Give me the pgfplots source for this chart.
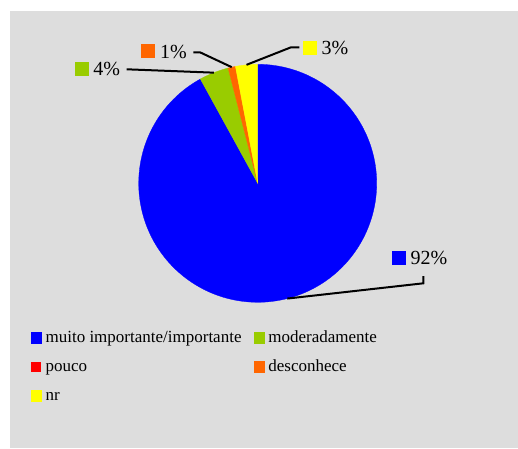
\documentclass[border=0pt]{standalone}
\usepackage{fontspec}
\setmainfont{Liberation Serif}
\usepackage{pgfplots}
\usepackage{pgfplotstable}
\pgfplotsset{compat=1.18}

\definecolor{panel}{HTML}{DDDDDD}
\definecolor{cMuito}{HTML}{0000FF}
\definecolor{cModer}{HTML}{99CC00}
\definecolor{cPouco}{HTML}{FF0000}
\definecolor{cDesc}{HTML}{FF6600}
\definecolor{cNr}{HTML}{FFFF00}

% shares in percent, in the order the slices are drawn
\pgfplotstableread{
share
92
4
0
1
3
}\pietable

\pgfplotstablegetelem{0}{share}\of\pietable\let\sA\pgfplotsretval
\pgfplotstablegetelem{1}{share}\of\pietable\let\sB\pgfplotsretval
\pgfplotstablegetelem{2}{share}\of\pietable\let\sC\pgfplotsretval
\pgfplotstablegetelem{3}{share}\of\pietable\let\sD\pgfplotsretval
\pgfplotstablegetelem{4}{share}\of\pietable\let\sE\pgfplotsretval

% pie centre and radius (pt), angles clockwise from 12 o'clock
\def\cx{257.7}
\def\cy{264.7}
\def\rr{119}
\pgfmathsetmacro\aA{3.6*\sA}
\pgfmathsetmacro\aB{\aA+3.6*\sB}
\pgfmathsetmacro\aC{\aB+3.6*\sC}
\pgfmathsetmacro\aD{\aC+3.6*\sD}
\pgfmathsetmacro\aE{\aD+3.6*\sE}
% leader line start points at the middle of each labelled slice
\pgfmathsetmacro\mA{\aA/2}
\pgfmathsetmacro\mB{(\aA+\aB)/2}
\pgfmathsetmacro\mD{(\aC+\aD)/2}
\pgfmathsetmacro\mE{(\aD+\aE)/2}
\pgfmathsetmacro\lAx{\cx+\rr*sin(\mA)}\pgfmathsetmacro\lAy{\cy+\rr*cos(\mA)}
\pgfmathsetmacro\lBx{\cx+\rr*sin(\mB)}\pgfmathsetmacro\lBy{\cy+\rr*cos(\mB)}
\pgfmathsetmacro\lDx{\cx+\rr*sin(\mD)}\pgfmathsetmacro\lDy{\cy+\rr*cos(\mD)}
\pgfmathsetmacro\lEx{\cx+\rr*sin(\mE)}\pgfmathsetmacro\lEy{\cy+\rr*cos(\mE)}

\newcommand\labfont{\fontsize{20}{24}\selectfont}

\begin{document}
\begin{tikzpicture}[x=1pt,y=1pt]
\fill[white] (0,0) rectangle (518,448);
\fill[panel] (10,0) rectangle (518,437);
\begin{axis}[
  at={(0,0)}, anchor=south west,
  scale only axis, width=518pt, height=448pt,
  xmin=0, xmax=518, ymin=0, ymax=448,
  hide axis, clip=false,
  legend columns=2,
  legend image code/.code={\path[#1] (0pt,-4.6pt) rectangle (10.6pt,6pt);},
  legend style={
    draw=none, fill=none, inner sep=0pt,
    at={(axis cs:30.5,117.6)}, anchor=north west,
    font=\fontsize{17}{20}\selectfont,
    nodes={inner sep=0pt, text height=12pt, text depth=4pt},
    row sep=13pt, column sep=4pt,
    /tikz/every even column/.append style={column sep=12pt},
  },
  legend cell align=left,
]
\addplot[fill=cMuito, draw=cMuito, line width=0.3pt, domain=0:\aA, samples=181, variable=\t]
  ({\cx+\rr*sin(\t)},{\cy+\rr*cos(\t)}) -- (axis cs:\cx,\cy) -- cycle;
\addlegendentry{muito importante/importante}
\addplot[fill=cModer, draw=cModer, line width=0.3pt, domain=\aA:\aB, samples=25, variable=\t]
  ({\cx+\rr*sin(\t)},{\cy+\rr*cos(\t)}) -- (axis cs:\cx,\cy) -- cycle;
\addlegendentry{moderadamente}
\addlegendimage{fill=cPouco, draw=none}
\addlegendentry{pouco}
\addplot[fill=cDesc, draw=cDesc, line width=0.3pt, domain=\aC:\aD, samples=10, variable=\t]
  ({\cx+\rr*sin(\t)},{\cy+\rr*cos(\t)}) -- (axis cs:\cx,\cy) -- cycle;
\addlegendentry{desconhece}
\addplot[fill=cNr, draw=cNr, line width=0.3pt, domain=\aD:\aE, samples=20, variable=\t]
  ({\cx+\rr*sin(\t)},{\cy+\rr*cos(\t)}) -- (axis cs:\cx,\cy) -- cycle;
\addlegendentry{nr}

% leader lines
\draw[line width=2pt, line join=miter] (axis cs:\lAx,\lAy) -- (axis cs:423.3,164.7) -- (axis cs:423.3,172);
\draw[line width=2pt, line join=miter] (axis cs:\lEx,\lEy) -- (axis cs:291,400.7) -- (axis cs:299.3,400.7);
\draw[line width=2pt, line join=miter] (axis cs:\lDx,\lDy) -- (axis cs:200,395.7) -- (axis cs:193.3,395.7);
\draw[line width=2pt] (axis cs:\lBx,\lBy) -- (axis cs:126.7,378.7);

% data labels
\fill[cMuito] (axis cs:392,183.3) rectangle (axis cs:406,197.3);
\node[anchor=base west, inner sep=0pt, font=\labfont] at (axis cs:410.5,183.6) {92\%};
\fill[cNr] (axis cs:303,393) rectangle (axis cs:317,407);
\node[anchor=base west, inner sep=0pt, font=\labfont] at (axis cs:321.5,393.3) {3\%};
\fill[cDesc] (axis cs:141,389.5) rectangle (axis cs:155,403.5);
\node[anchor=base west, inner sep=0pt, font=\labfont] at (axis cs:159.8,389.7) {1\%};
\fill[cModer] (axis cs:75,372.3) rectangle (axis cs:89,386.3);
\node[anchor=base west, inner sep=0pt, font=\labfont] at (axis cs:93.2,372.5) {4\%};
\end{axis}
\end{tikzpicture}
\end{document}
